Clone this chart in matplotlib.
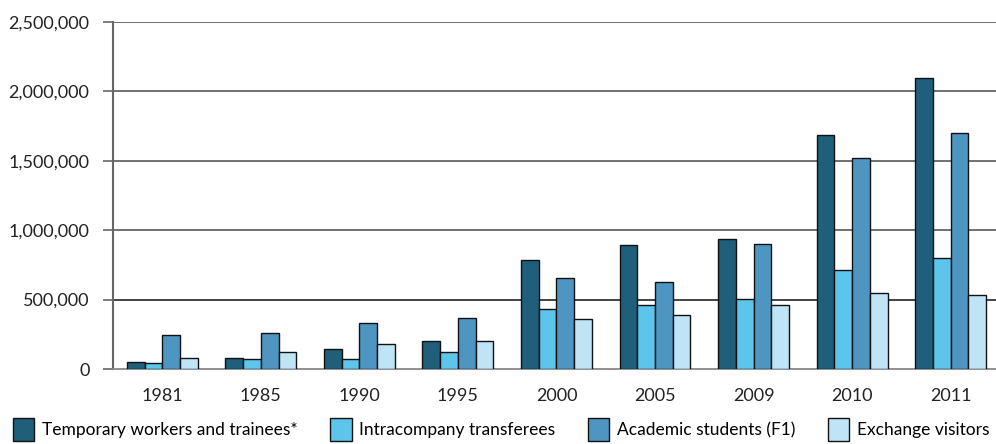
import numpy as np
import matplotlib
matplotlib.use('Agg')
import matplotlib.pyplot as plt
from matplotlib.ticker import FuncFormatter

years = ['1981', '1985', '1990', '1995', '2000', '2005', '2009', '2010', '2011']
temp_workers = [53000, 79000, 146000, 204000, 787000, 891000, 939000, 1683000, 2094000]
intracompany = [43000, 70000, 70000, 120000, 432000, 463000, 502000, 711000, 797000]
academic = [243000, 262000, 329000, 367000, 653000, 624000, 900000, 1522000, 1702000]
exchange = [81000, 120000, 178000, 204000, 358000, 387000, 463000, 547000, 531000]

labels = ['Temporary workers and trainees*', 'Intracompany transferees',
          'Academic students (F1)', 'Exchange visitors']
colors = ['#1f5f7a', '#5dc4eb', '#4e95c2', '#bfe4f6']

plt.rcParams['font.family'] = ['Lato', 'DejaVu Sans']

fig = plt.figure(figsize=(9.96, 4.44), dpi=100)
ax = fig.add_axes([113 / 996, 75 / 444, 883 / 996, 347 / 444])

x = np.arange(len(years))
w = 0.18
series = [temp_workers, intracompany, academic, exchange]
for i, (vals, c, lab) in enumerate(zip(series, colors, labels)):
    ax.bar(x + (i - 1.5) * w, vals, width=w, color=c, edgecolor='#111111',
           linewidth=1.0, label=lab, zorder=3)

ax.set_xlim(-0.5, 8.46)
ax.set_ylim(0, 2500000)
ax.set_yticks([0, 500000, 1000000, 1500000, 2000000, 2500000])
ax.yaxis.set_major_formatter(FuncFormatter(lambda v, p: '{:,.0f}'.format(v)))
ax.set_xticks(x)
ax.set_xticklabels(years)
ax.tick_params(axis='x', length=0, pad=14, labelsize=13, colors='#222222')
ax.tick_params(axis='y', length=7, width=1.2, color='#666666', labelsize=13,
               colors='#222222', pad=10)

for v in [1000000, 1500000, 2000000, 2500000]:
    ax.axhline(v, color='#666666', linewidth=1.3, zorder=1)
ax.axhline(500000, color='#111111', linewidth=1.1, zorder=1)

for s in ['top', 'right']:
    ax.spines[s].set_visible(False)
ax.spines['left'].set_color('#666666')
ax.spines['left'].set_linewidth(1.5)
ax.spines['bottom'].set_color('#888888')
ax.spines['bottom'].set_linewidth(1.3)

fig.legend(loc='lower left', bbox_to_anchor=(0.004, -0.012), ncol=4, frameon=False,
           fontsize=12.5, handlelength=1.25, handleheight=1.6, handletextpad=0.45,
           columnspacing=1.85, borderaxespad=0.1)

fig.savefig('out.png', dpi=100)
